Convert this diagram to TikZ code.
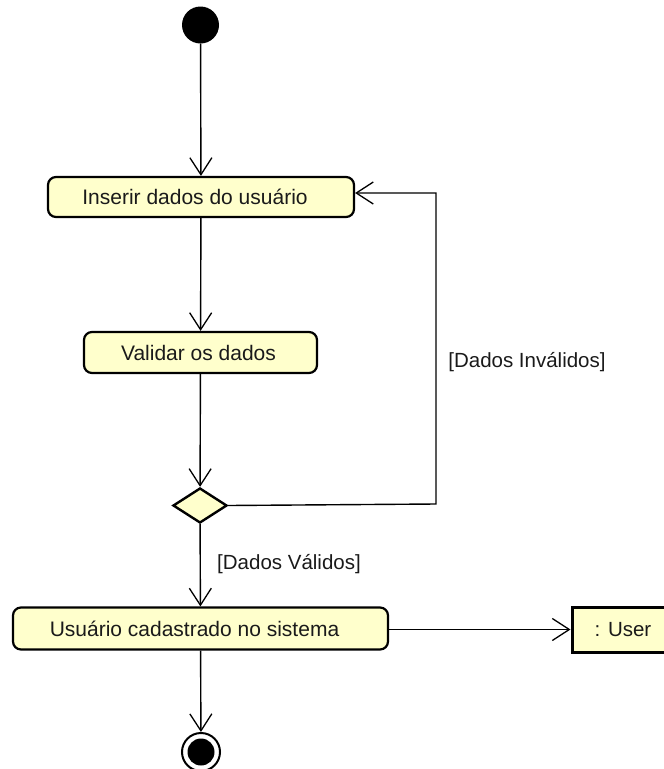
\documentclass[tikz,border=0pt]{standalone}
\usepackage{fontspec}
\setmainfont{Liberation Sans}
\usetikzlibrary{arrows.meta,shapes.geometric}

\definecolor{actfill}{HTML}{FFFFCC}
\definecolor{txtgray}{HTML}{1A1A1A}

\tikzset{
  flow/.style={draw=black, line width=1.4pt,
    -{Straight Barb[length=17pt,width=22pt,line width=1.3pt]}},
  action/.style={draw=black, line width=2.2pt, fill=actfill, rounded corners=8pt,
    minimum height=40pt, inner sep=0pt, text=txtgray,
    font=\fontsize{21}{25}\selectfont},
  object/.style={draw=black, line width=3pt, fill=actfill,
    minimum height=44pt, inner sep=0pt, text=txtgray,
    font=\fontsize{20.5}{24}\selectfont},
  decision/.style={diamond, draw=black, line width=2.4pt, fill=actfill,
    minimum width=54pt, minimum height=35pt, inner sep=0pt, aspect=1.55},
  guard/.style={text=txtgray, font=\fontsize{20.5}{24}\selectfont, inner sep=0pt},
}

\begin{document}
\begin{tikzpicture}[x=1pt,y=1pt]
  \useasboundingbox (0,0) rectangle (664,-769);
  \clip (0,0) rectangle (664,-769);

  % initial node
  \node[circle, fill=black, minimum size=37pt, inner sep=0pt] (start) at (200.5,-25) {};

  % actions
  \node[action, minimum width=306pt] (ins) at (201,-197) {Inserir dados do usuário\hspace*{12pt}};
  \node[action, minimum width=233pt, minimum height=41pt] (val) at (200.5,-352.5) {Validar os dados\hspace*{4pt}};
  \node[decision] (dec) at (200,-505.5) {};
  \node[action, minimum width=375pt, minimum height=42pt] (usu) at (200.5,-628.5) {Usuário cadastrado no sistema\hspace*{12pt}};

  % object node (extends past the right edge)
  \node[object, minimum width=102pt, minimum height=45pt] (obj) at (623,-629.5) {: User};

  % final node
  \node[circle, draw=black, line width=2pt, fill=white, minimum size=38pt, inner sep=0pt] (fin) at (201,-752) {};
  \node[circle, fill=black, minimum size=27pt, inner sep=0pt] at (fin.center) {};

  % guards
  \node[guard] (gInv) at (527,-362) {[Dados Inválidos]};
  \node[guard] (gVal) at (289,-564) {[Dados Válidos]};

  % flows
  \draw[flow] (start) -- (ins);
  \draw[flow] (ins) -- (val);
  \draw[flow] (val) -- (dec);
  \draw[flow] (dec) -- (usu);
  \draw[flow] (usu) -- (fin);
  \draw[flow] (usu.east |- obj.west) -- (obj.west);

  % loop back when data are invalid
  \coordinate (loopB) at (436,-504);
  \coordinate (loopT) at (436,-193);
  \coordinate (insR) at ([yshift=4pt]ins.east);
  \draw[flow] (dec.east) -- (loopB) -- (loopT) -- (insR);
\end{tikzpicture}
\end{document}
